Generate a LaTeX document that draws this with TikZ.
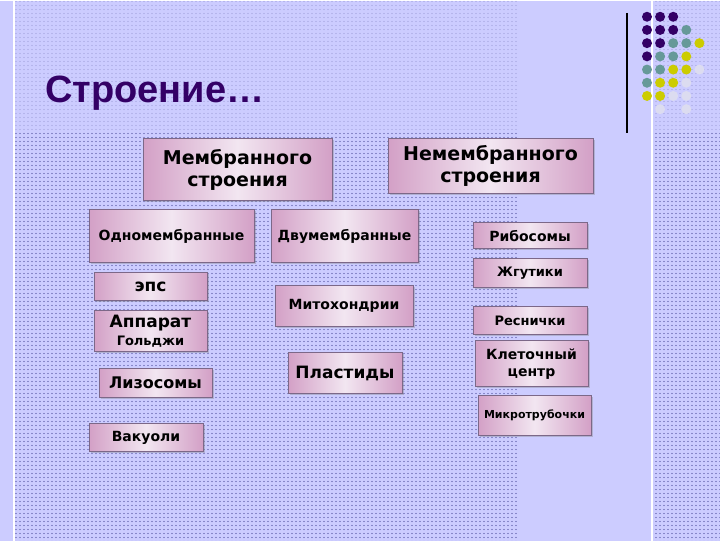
\documentclass[tikz,border=0pt]{standalone}
\usepackage{fontspec}
\setmainfont{DejaVu Sans}
\newfontfamily\titlefont{Liberation Sans}
\usetikzlibrary{patterns.meta, shadows}

\definecolor{slidebg}{HTML}{CCCCFF}
\definecolor{dotdark}{HTML}{444494}
\definecolor{dotlight}{HTML}{9E9EDA}
\definecolor{titlepurple}{HTML}{330066}
\definecolor{ballpurple}{HTML}{330066}
\definecolor{ballteal}{HTML}{669999}
\definecolor{ballyellow}{HTML}{CCCC00}
\definecolor{ballwhite}{HTML}{DCDCF0}
\definecolor{boxpink}{HTML}{D3A0C6}
\definecolor{boxlight}{HTML}{F2E6F1}
\definecolor{boxedge}{HTML}{7C6888}

\tikzdeclarepattern{
  name=slidedots,
  type=uncolored,
  bounding box={(-1pt,-1pt) and (1pt,1pt)},
  tile size={(4pt,4pt)},
  code={\fill (0pt,0pt) circle (0.6pt);}
}

\begin{document}
\begin{tikzpicture}[
    x=1pt, y=-1pt,
    cellbox/.style={rectangle, draw=boxedge, line width=0.6pt, inner sep=0pt, align=center,
        left color=boxpink, right color=boxpink, middle color=boxlight,
        drop shadow={shadow xshift=1.5pt, shadow yshift=-1.5pt, opacity=0.35}},
    ball/.style={circle, inner sep=0pt, minimum size=10pt},
]

% background
\fill[slidebg] (0,0) rectangle (720,540);
\fill[pattern={slidedots}, pattern color=dotlight] (15,0) rectangle (518,130);
\fill[pattern={slidedots}, pattern color=dotdark] (15,130) rectangle (518,540);
\fill[pattern={slidedots}, pattern color=dotlight] (653,0) rectangle (720,130);
\fill[pattern={slidedots}, pattern color=dotdark] (653,130) rectangle (720,540);
\draw[white, line width=1.5pt] (14,0) -- (14,540);
\draw[white, line width=1.5pt] (652,0) -- (652,540);
\draw[black, line width=1.4pt] (627,12) -- (627,132);

% corner balls
\foreach \c/\r/\col in {0/0/ballpurple, 1/0/ballpurple, 2/0/ballpurple,
    0/1/ballpurple, 1/1/ballpurple, 2/1/ballpurple, 3/1/ballteal,
    0/2/ballpurple, 1/2/ballpurple, 2/2/ballteal, 3/2/ballteal, 4/2/ballyellow,
    0/3/ballpurple, 1/3/ballteal, 2/3/ballteal, 3/3/ballyellow,
    0/4/ballteal, 1/4/ballteal, 2/4/ballyellow, 3/4/ballyellow, 4/4/ballwhite,
    0/5/ballteal, 1/5/ballyellow, 2/5/ballyellow, 3/5/ballwhite,
    0/6/ballyellow, 1/6/ballyellow, 2/6/ballwhite, 3/6/ballwhite,
    1/7/ballwhite, 3/7/ballwhite}
  \node[ball, fill=\col] (b\c\r) at ({647+13.1*\c},{16+13.2*\r}) {};

\node[font=\titlefont\bfseries\fontsize{38}{40}\selectfont, text=titlepurple, anchor=base west, inner sep=0pt] (title) at (45,102) {Строение…};

% membrane organelles
\node[cellbox, minimum width=189pt, minimum height=62pt, font=\fontsize{19}{22}\selectfont\bfseries] (membr) at (237.5,169) {Мембранного\\строения};
\node[cellbox, minimum width=205pt, minimum height=55pt, font=\fontsize{19}{22}\selectfont\bfseries] (nonmembr) at (490.5,165.5) {Немембранного\\строения};
\node[cellbox, minimum width=165pt, minimum height=53pt, font=\fontsize{14}{16}\selectfont\bfseries] (single) at (171.5,235.5) {Одномембранные};
\node[cellbox, minimum width=147pt, minimum height=53pt, font=\fontsize{14}{16}\selectfont\bfseries] (double) at (344.5,235.5) {Двумембранные};
\node[cellbox, minimum width=113pt, minimum height=28pt, font=\fontsize{17}{19}\selectfont\bfseries] (eps) at (150.5,286) {эпс};
\node[cellbox, minimum width=113pt, minimum height=41pt, font=\fontsize{17}{18}\selectfont\bfseries] (golgi) at (150.5,330.5) {Аппарат\\{\fontsize{13}{15}\selectfont Гольджи}};
\node[cellbox, minimum width=113pt, minimum height=29pt, font=\fontsize{16}{18}\selectfont\bfseries] (lyso) at (155.5,382.5) {Лизосомы};
\node[cellbox, minimum width=114pt, minimum height=28pt, font=\fontsize{14}{16}\selectfont\bfseries] (vacu) at (146,437) {Вакуоли};
\node[cellbox, minimum width=138pt, minimum height=41pt, font=\fontsize{14}{16}\selectfont\bfseries] (mito) at (344,305.5) {Митохондрии};
\node[cellbox, minimum width=114pt, minimum height=41pt, font=\fontsize{17}{19}\selectfont\bfseries] (plast) at (345,372.5) {Пластиды};

% non-membrane organelles
\node[cellbox, minimum width=114pt, minimum height=26pt, font=\fontsize{14}{16}\selectfont\bfseries] (ribo) at (530,235) {Рибосомы};
\node[cellbox, minimum width=114pt, minimum height=29pt, font=\fontsize{13}{15}\selectfont\bfseries] (flag) at (530,272.5) {Жгутики};
\node[cellbox, minimum width=114pt, minimum height=28pt, font=\fontsize{13}{15}\selectfont\bfseries] (cilia) at (530,320) {Реснички};
\node[cellbox, minimum width=113pt, minimum height=46pt, font=\fontsize{14}{17}\selectfont\bfseries] (centr) at (531.5,363) {Клеточный\\центр};
\node[cellbox, minimum width=113pt, minimum height=40pt, font=\fontsize{11}{13}\selectfont\bfseries] (micro) at (534.5,415) {Микротрубочки};

\end{tikzpicture}
\end{document}
